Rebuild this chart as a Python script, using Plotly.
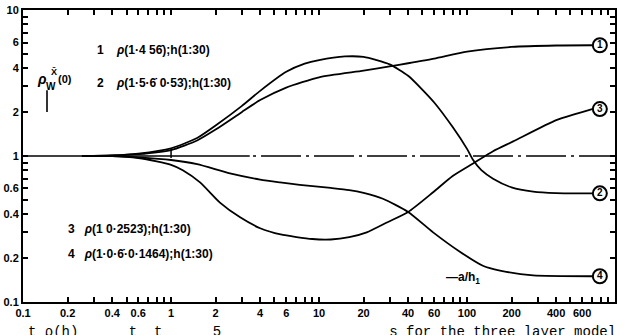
import plotly.graph_objects as go

# Apparent resistivity ratio against a/h1 for four three-layer models (log-log)
x1 = [0.25, 0.4, 0.6, 1, 1.5, 2, 3, 4, 6, 10, 20, 30, 40, 60, 100, 200, 400, 700]
y1 = [1.0, 1.01, 1.03, 1.1, 1.28, 1.52, 2.0, 2.42, 2.95, 3.47, 3.85, 4.12, 4.33, 4.66, 5.2, 5.6, 5.73, 5.75]

x2 = [0.25, 0.4, 0.6, 1, 1.5, 2, 3, 4, 6, 8, 10, 15, 20, 30, 40, 60, 80, 100, 110, 125, 150, 200, 280, 400, 700]
y2 = [1.0, 1.01, 1.04, 1.13, 1.33, 1.62, 2.2, 2.8, 3.78, 4.3, 4.55, 4.82, 4.78, 4.25, 3.55, 2.33, 1.58, 1.12, 0.94, 0.8, 0.7, 0.61, 0.57, 0.557, 0.555]

x3 = [0.25, 0.4, 0.6, 0.8, 1, 1.2, 1.57, 2.14, 2.93, 4, 5.5, 9, 12, 16, 21, 29, 40, 59, 80, 110, 150, 205, 405, 700]
y3 = [1.0, 1.0, 0.97, 0.92, 0.87, 0.8, 0.66, 0.48, 0.38, 0.32, 0.29, 0.27, 0.268, 0.278, 0.30, 0.352, 0.414, 0.565, 0.73, 0.89, 1.08, 1.26, 1.77, 2.1]

x4 = [0.25, 0.4, 0.6, 1, 1.5, 2.5, 4, 5.45, 7.4, 12, 16, 20, 27, 40, 59, 90, 128, 167, 280, 700]
y4 = [1.0, 1.0, 0.98, 0.94, 0.88, 0.76, 0.69, 0.66, 0.635, 0.605, 0.585, 0.56, 0.51, 0.414, 0.30, 0.22, 0.177, 0.164, 0.152, 0.15]

curve_ids = ["1", "2", "3", "4"]
label_x = 790

# reference level rho = 1
ref_solid_x = [0.1, 3.4]
ref_dash_x = [3.58, 1000]
ref_level = 1.0

x_tickvals = [0.1, 0.2, 0.4, 0.6, 1, 2, 4, 6, 10, 20, 40, 60, 100, 200, 400, 600]
x_ticktext = ["0.1", "0.2", "0.4", "0.6", "1", "2", "4", "6", "10", "20", "40", "60", "100", "200", "400", "600"]
y_tickvals = [0.1, 0.2, 0.4, 0.6, 1, 2, 4, 6, 10]
y_ticktext = ["0.1", "0.2", "0.4", "0.6", "1", "2", "4", "6", "10"]

W, H = 627, 335
L, R, T, B = 23, 12, 4, 33
PW, PH = W - L - R, H - T - B


def px(xp):
    return (xp - L) / PW


def py(yp):
    return (H - B - yp) / PH


minor_x = [m * 10 ** e for e in (-1, 0, 1, 2) for m in range(2, 10)]
minor_y = [m * 10 ** e for e in (-1, 0) for m in range(2, 10)]

fig = go.Figure()
line = dict(color="black", width=1.8)
for xs, ys in ((x1, y1), (x2, y2), (x3, y3), (x4, y4)):
    fig.add_trace(go.Scatter(x=xs, y=ys, mode="lines", line=dict(line, shape="spline", smoothing=0.6),
                             hoverinfo="skip", showlegend=False))

fig.add_trace(go.Scatter(x=ref_solid_x, y=[ref_level] * 2, mode="lines",
                         line=dict(color="black", width=1.6), showlegend=False))
fig.add_trace(go.Scatter(x=ref_dash_x, y=[ref_level] * 2, mode="lines",
                         line=dict(color="black", width=1.6, dash="3px,5px,40px,5px"), showlegend=False))

# circled curve numbers at the right-hand ends
fig.add_trace(go.Scatter(
    x=[label_x] * 4, y=[y1[-1], y2[-1], y3[-1], y4[-1]], mode="markers+text",
    text=curve_ids, textposition="middle center",
    textfont=dict(family="Liberation Sans", size=10, color="black", weight="bold"),
    marker=dict(symbol="circle", size=14, color="white", line=dict(color="black", width=2)),
    cliponaxis=False, showlegend=False))

fig.add_shape(type="line", xref="x", yref="y", x0=1, x1=1, y0=0.97, y1=1.12,
              line=dict(color="black", width=1.5))

font = dict(family="Liberation Sans", size=12, color="black", weight="bold")
sp = "\u00a0"
notes = [
    (95, 45, "1" + sp * 4 + "<i>ρ</i>(1·4 56\u0307);h(1:30)"),
    (95, 78, "2" + sp * 4 + "<i>ρ</i>(1·5·6\u0307 0·53\u0307);h(1:30)"),
    (66, 227, "3" + sp * 3 + "<i>ρ</i>(1 0·2523\u0307);h(1:30)"),
    (66, 253, "4" + sp * 3 + "<i>ρ</i>(1·0·6\u0307·0·1464);h(1:30)"),
    (444, 278, "—a/h<sub>1</sub>"),
]
for xp, yp, t in notes:
    fig.add_annotation(x=px(xp), y=py(yp), xref="paper", yref="paper", text=t, showarrow=False,
                       xanchor="left", yanchor="middle", font=font)

# axis symbol rho_W(0)
fig.add_annotation(x=px(42), y=py(74), xref="paper", yref="paper", text="<i>ρ</i>", showarrow=False,
                   xanchor="center", yanchor="middle", font=dict(font, size=14))
fig.add_annotation(x=px(54), y=py(67), xref="paper", yref="paper", text="X\u0304", showarrow=False,
                   xanchor="center", yanchor="middle", font=dict(font, size=9))
fig.add_annotation(x=px(51), y=py(82), xref="paper", yref="paper", text="W", showarrow=False,
                   xanchor="center", yanchor="middle", font=dict(font, size=10))
fig.add_annotation(x=px(65), y=py(74), xref="paper", yref="paper", text="(0)", showarrow=False,
                   xanchor="center", yanchor="middle", font=dict(font, size=11))
fig.add_shape(type="line", xref="paper", yref="paper", x0=px(47), x1=px(47), y0=py(86), y1=py(108),
              line=dict(color="black", width=1.6))

# caption line running off the bottom edge
caption = "t ρ(h)" + " " * 6 + "t  t" + " " * 6 + "5" + " " * 20 + "s for the three layer model"
fig.add_annotation(x=3 / W, y=py(322), xref="paper", yref="paper", text=caption.replace(" ", sp),
                   showarrow=False, xanchor="left", yanchor="top",
                   font=dict(family="Liberation Mono", size=14, color="black"))

axis_common = dict(type="log", showgrid=False, zeroline=False, showline=True, linecolor="black",
                   linewidth=2, mirror="ticks", ticks="inside", tickcolor="black", tickwidth=1.5,
                   tickfont=dict(family="Liberation Sans", size=11, color="black", weight="bold"))
fig.update_xaxes(axis_common, range=[-1.0005, 3], tickmode="array", tickvals=x_tickvals, ticktext=x_ticktext,
                 ticklen=5, minor=dict(tickmode="array", tickvals=minor_x + [1, 10, 100], ticks="inside",
                                       ticklen=5, tickcolor="black", tickwidth=1.5))
fig.update_yaxes(axis_common, range=[-1.0005, 1.0015], tickmode="array", tickvals=y_tickvals, ticktext=y_ticktext,
                 ticklen=5, minor=dict(tickmode="array", tickvals=minor_y, ticks="inside",
                                       ticklen=5, tickcolor="black", tickwidth=1.5))

fig.update_layout(width=W, height=H, margin=dict(l=L, r=R, t=T, b=B, pad=0),
                  plot_bgcolor="white", paper_bgcolor="white", showlegend=False)
fig.write_html("out.html")
